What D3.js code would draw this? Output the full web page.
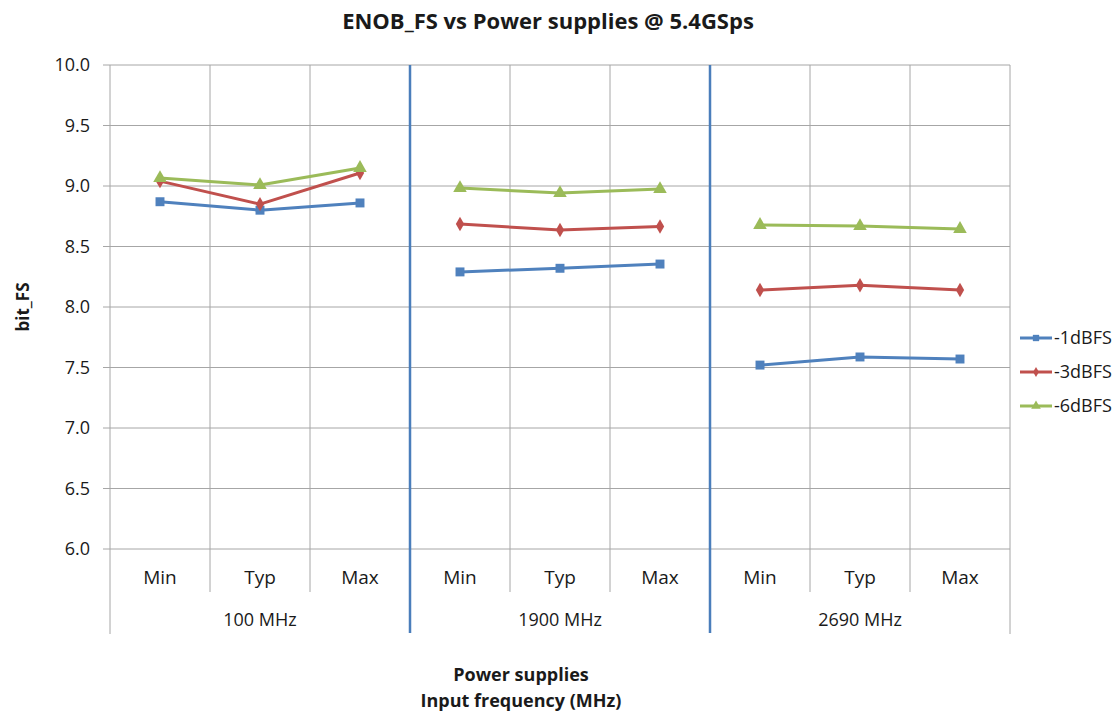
<!DOCTYPE html>
<html><head><meta charset="utf-8">
<script src="https://cdn.jsdelivr.net/npm/d3@7"></script>
<style>body{margin:0;background:#fff;} text{font-family:"Open Sans","Noto Sans",sans-serif;fill:#1a1a1a;}</style>
</head><body>
<svg id="c" width="1119" height="713"></svg>
<script>
const groups = ["100 MHz", "1900 MHz", "2690 MHz"];
const supplies = ["Min", "Typ", "Max"];
const seriesNames = ["-1dBFS", "-3dBFS", "-6dBFS"];
const s1 = [8.87, 8.80, 8.86, 8.29, 8.32, 8.355, 7.52, 7.587, 7.57];
const s3 = [9.04, 8.85, 9.107, 8.686, 8.636, 8.665, 8.14, 8.18, 8.14];
const s6 = [9.066, 9.008, 9.149, 8.983, 8.942, 8.975, 8.678, 8.669, 8.645];
const yTicks = [6.0, 6.5, 7.0, 7.5, 8.0, 8.5, 9.0, 9.5, 10.0];
const colors = ["#4f81bd", "#c0504d", "#9bbb59"];
const symbols = [d3.symbolSquare, d3.symbolDiamond, d3.symbolTriangle];
const symSizes = [80, 60, 80];

const svg = d3.select("#c");
const L = 110, R = 1010, T = 65, B = 549;
const cats = [];
groups.forEach(g => supplies.forEach(s => cats.push(g + "|" + s)));
const x = d3.scaleBand().domain(cats).range([L, R]);
const xg = d3.scaleBand().domain(groups).range([L, R]);
const y = d3.scaleLinear().domain([6, 10]).range([B, T]);
const grid = "#a6a6a6";

svg.append("g").selectAll("line").data(yTicks).join("line")
  .attr("x1", L - 7).attr("x2", R).attr("y1", d => y(d)).attr("y2", d => y(d))
  .attr("stroke", grid).attr("stroke-width", 1);
svg.append("g").selectAll("line").data(cats.slice(1)).join("line")
  .attr("x1", d => x(d)).attr("x2", d => x(d)).attr("y1", T).attr("y2", B + 43)
  .attr("stroke", grid).attr("stroke-width", 1);
[L, R].forEach(xx => svg.append("line").attr("x1", xx).attr("x2", xx).attr("y1", T).attr("y2", B + 85)
  .attr("stroke", grid).attr("stroke-width", 1));
svg.append("g").selectAll("line").data(groups.slice(1)).join("line")
  .attr("x1", d => xg(d)).attr("x2", d => xg(d)).attr("y1", T).attr("y2", B + 84)
  .attr("stroke", "#4a7ebb").attr("stroke-width", 2.5);

svg.append("g").selectAll("text").data(yTicks).join("text")
  .attr("x", 90).attr("y", d => y(d)).attr("dy", "0.35em").attr("text-anchor", "end")
  .style("font-size", "18px").text(d => d.toFixed(1));
svg.append("g").selectAll("text").data(cats).join("text")
  .attr("x", d => x(d) + x.bandwidth() / 2).attr("y", B + 35).attr("text-anchor", "middle")
  .style("font-size", "19px").text(d => d.split("|")[1]);
svg.append("g").selectAll("text").data(groups).join("text")
  .attr("x", d => xg(d) + xg.bandwidth() / 2).attr("y", B + 77).attr("text-anchor", "middle")
  .style("font-size", "18px").text(d => d);

const allSeries = [s1, s3, s6];
allSeries.forEach((vals, si) => {
  groups.forEach((g, gi) => {
    const pts = supplies.map((s, k) => [x(g + "|" + s) + x.bandwidth() / 2, y(vals[gi * 3 + k])]);
    svg.append("path").attr("d", d3.line()(pts)).attr("fill", "none")
      .attr("stroke", colors[si]).attr("stroke-width", 3).attr("stroke-linejoin", "round");
  });
  svg.append("g").selectAll("path").data(vals).join("path")
    .attr("transform", (d, i) => `translate(${x(cats[i]) + x.bandwidth() / 2},${y(d)})`)
    .attr("d", d3.symbol().type(symbols[si]).size(symSizes[si]))
    .attr("fill", colors[si]);
});

seriesNames.forEach((n, i) => {
  const ly = 338 + i * 34;
  svg.append("line").attr("x1", 1020).attr("x2", 1052).attr("y1", ly).attr("y2", ly)
    .attr("stroke", colors[i]).attr("stroke-width", 3);
  svg.append("path").attr("transform", `translate(1036,${ly})`)
    .attr("d", d3.symbol().type(symbols[i]).size(symSizes[i] * 0.5)).attr("fill", colors[i]);
  svg.append("text").attr("x", 1054).attr("y", ly).attr("dy", "0.35em")
    .style("font-size", "18px").text(n);
});

svg.append("text").attr("x", 548).attr("y", 29).attr("text-anchor", "middle")
  .style("font-size", "22px").style("font-weight", "bold").text("ENOB_FS vs Power supplies @ 5.4GSps");
svg.append("text").attr("transform", "translate(29,307) rotate(-90)").attr("text-anchor", "middle")
  .style("font-size", "17px").style("font-weight", "bold").text("bit_FS");
svg.append("text").attr("x", 521).attr("y", 681).attr("text-anchor", "middle")
  .style("font-size", "18px").style("font-weight", "bold").text("Power supplies");
svg.append("text").attr("x", 521).attr("y", 707).attr("text-anchor", "middle")
  .style("font-size", "18px").style("font-weight", "bold").text("Input frequency (MHz)");
</script>
</body></html>
